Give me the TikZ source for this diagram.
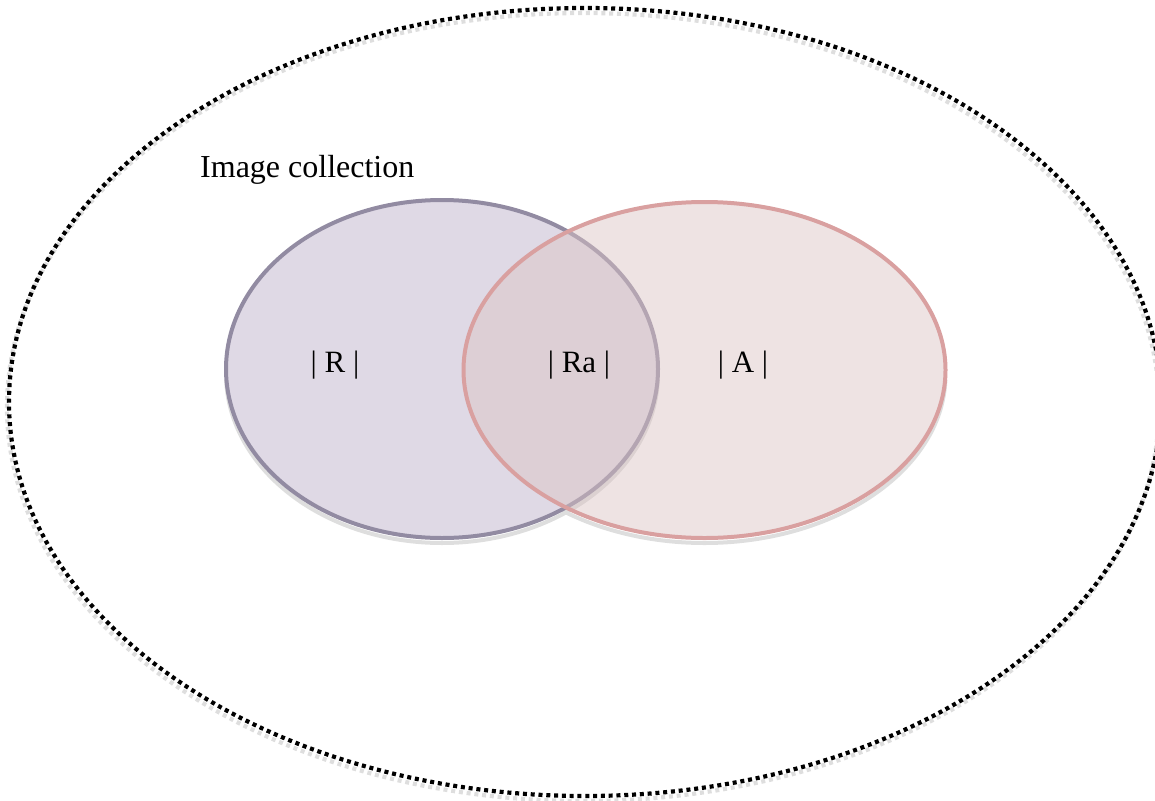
\documentclass[tikz,border=0pt]{standalone}
\usepackage{fontspec}
\setmainfont{Liberation Serif}
\definecolor{rline}{RGB}{146,139,162}
\definecolor{rfill}{RGB}{223,217,229}
\definecolor{aline}{RGB}{217,160,160}
\definecolor{afill}{RGB}{219,196,196}
\definecolor{shadowgrey}{RGB}{222,222,222}
\tikzset{
  setlabel/.style={anchor=base, font=\fontsize{31}{36}\selectfont, inner sep=0pt},
  dotline/.style={line width=4.2pt, dash pattern=on 4pt off 3.8pt},
}
\begin{document}
\begin{tikzpicture}[x=1pt, y=-1pt]
\useasboundingbox (0,0) rectangle (1155,800);
% outer collection boundary with its soft shadow
\draw[dotline, draw=shadowgrey] (583,407) ellipse [x radius=576, y radius=394];
\node[draw=none, minimum size=0pt, inner sep=0pt] (coll) at (585,402) {};
\draw[dotline, draw=black] (585,402) ellipse [x radius=576, y radius=394];
% shadows of the two sets, lower halves only
\begin{scope}
  \clip (0,380) rectangle (1155,800);
  \draw[line width=4pt, draw=shadowgrey] (442,374) ellipse [x radius=216, y radius=169];
  \draw[line width=4pt, draw=shadowgrey] (704.5,375) ellipse [x radius=241, y radius=168];
\end{scope}
% set R
\draw[line width=4pt, draw=rline, fill=rfill] (442,369) ellipse [x radius=216, y radius=169];
% set A, translucent over R
\draw[line width=4pt, draw=aline, fill=afill, fill opacity=0.47] (704.5,370) ellipse [x radius=241, y radius=168];
% labels
\node[setlabel, anchor=base west, font=\fontsize{32}{36}\selectfont] (title) at (200,177) {Image collection};
\node[setlabel] (lr) at (335,372) {| R |};
\node[setlabel] (lra) at (579,372) {| Ra |};
\node[setlabel] (la) at (743,372) {| A |};
\end{tikzpicture}
\end{document}
